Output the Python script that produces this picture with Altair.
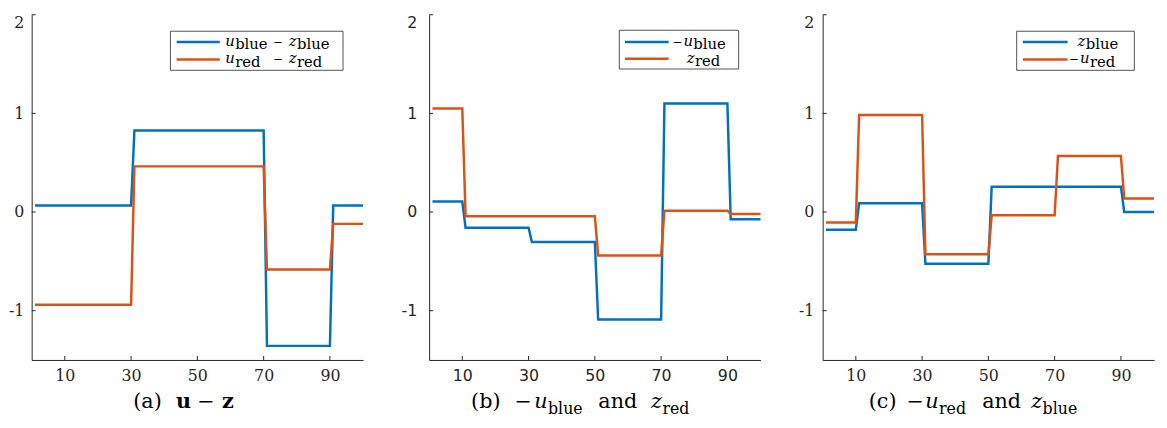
import altair as alt
import pandas as pd

# ---------------- data (step levels) ----------------
X_TICKS = [10, 30, 50, 70, 90]
Y_TICKS = [-1, 0, 1, 2]

A_BLUE_START = [1, 31, 71, 91]
A_BLUE_VAL = [0.067, 0.827, -1.357, 0.067]
A_RED_START = [1, 31, 71, 91]
A_RED_VAL = [-0.94, 0.463, -0.583, -0.12]

B_BLUE_START = [1, 11, 31, 51, 71, 91]
B_BLUE_VAL = [0.107, -0.16, -0.304, -1.09, 1.10, -0.074]
B_RED_START = [1, 11, 51, 71, 91]
B_RED_VAL = [1.05, -0.043, -0.44, 0.013, -0.02]

C_BLUE_START = [1, 11, 31, 51, 91]
C_BLUE_VAL = [-0.18, 0.09, -0.525, 0.257, 0.0]
C_RED_START = [1, 11, 31, 51, 71, 91]
C_RED_VAL = [-0.107, 0.983, -0.428, -0.033, 0.569, 0.137]

X_END = 100

BLUE = "#0072BD"
RED = "#D95319"
AX = "#262626"
W, H = 336, 350
SERIF = "DejaVu Serif"
SANS = "DejaVu Sans"


def steps(starts, vals, name):
    rows = []
    for i, (s, v) in enumerate(zip(starts, vals)):
        e = starts[i + 1] - 1 if i + 1 < len(starts) else X_END
        rows.append({"x": s, "y": v, "s": name})
        rows.append({"x": e, "y": v, "s": name})
    return rows


def txt(t, x, y, size, style="normal", weight="normal", align="left", font=SERIF):
    return alt.Chart(pd.DataFrame({"t": [t]})).mark_text(
        align=align, baseline="alphabetic", font=font, fontSize=size,
        fontStyle=style, fontWeight=weight, color="black"
    ).encode(x=alt.value(x), y=alt.value(y), text="t:N")


def panel(blue, red, tick_font, lp, legend, caption):
    df = pd.DataFrame(blue + red)
    xscale = alt.Scale(domain=[0, 100], nice=False, zero=False)
    yscale = alt.Scale(domain=[-1.5, 2], nice=False, zero=False)
    xaxis = alt.Axis(values=X_TICKS, ticks=False, tickSize=0, grid=False,
                     domainColor=AX, labelColor=AX, labelFont=tick_font,
                     labelFontSize=16, labelPadding=8, title=None,
                     labelExpr="'' + datum.value")
    yaxis = alt.Axis(values=Y_TICKS, ticks=False, tickSize=0, grid=False,
                     domainColor=AX, labelColor=AX, labelFont=tick_font,
                     labelFontSize=16, labelPadding=lp, title=None,
                     labelFlush=True, labelExpr="'' + datum.value")
    lines = alt.Chart(df).mark_line(strokeWidth=2.5, strokeJoin="miter").encode(
        x=alt.X("x:Q", scale=xscale, axis=xaxis),
        y=alt.Y("y:Q", scale=yscale, axis=yaxis),
        color=alt.Color("s:N", scale=alt.Scale(domain=["blue", "red"], range=[BLUE, RED]),
                        legend=None),
    )
    xt = alt.Chart(pd.DataFrame({"x": X_TICKS})).mark_rule(color=AX, strokeWidth=1).encode(
        x=alt.X("x:Q", scale=xscale, axis=xaxis), y=alt.value(H), y2=alt.value(H - 4))
    yt = alt.Chart(pd.DataFrame({"y": Y_TICKS})).mark_rule(color=AX, strokeWidth=1).encode(
        y=alt.Y("y:Q", scale=yscale, axis=yaxis), x=alt.value(0), x2=alt.value(4))

    bx1, bx2, by1, by2 = legend["box"]
    lx1, lx2 = legend["line_x"]
    ly1, ly2 = legend["line_y"]
    one = pd.DataFrame({"a": [0]})
    box = alt.Chart(one).mark_rect(fill="white", stroke=AX, strokeWidth=0.8).encode(
        x=alt.value(bx1), x2=alt.value(bx2), y=alt.value(by1), y2=alt.value(by2))
    lb = alt.Chart(one).mark_rule(color=BLUE, strokeWidth=2.5).encode(
        x=alt.value(lx1), x2=alt.value(lx2), y=alt.value(ly1))
    lr = alt.Chart(one).mark_rule(color=RED, strokeWidth=2.5).encode(
        x=alt.value(lx1), x2=alt.value(lx2), y=alt.value(ly2))

    layers = [lines, xt, yt, box, lb, lr]
    for p in legend["text"] + caption:
        layers.append(txt(*p))
    return alt.layer(*layers).properties(width=W, height=H)


I, N, B = "italic", "normal", "bold"
R, L = "right", "left"
# legend / caption pieces: (text, x, y, size, style, weight, align)
LEG_A = {
    "box": (140.7, 315.7, 16.7, 56.3),
    "line_x": (147, 190.7),
    "line_y": (27.7, 45.3),
    "text": [
        ("u", 206, 31.5, 15, I, N, R), ("blue", 206.3, 35, 15),
        ("\u2212", 245, 31.5, 12), ("z", 268.5, 31.5, 15, I, N, R), ("blue", 269, 35, 15),
        ("u", 206, 49, 15, I, N, R), ("red", 206.3, 52.5, 15),
        ("\u2212", 245, 49, 12), ("z", 268.5, 49, 15, I, N, R), ("red", 269, 52.5, 15),
    ],
}
CAP_A = [
    ("(a)", 103, 399, 21), ("u", 146.3, 399, 21, N, B),
    ("\u2212", 168, 399, 21), ("z", 193, 399, 21, N, B),
]

LEG_B = {
    "box": (192.8, 313.8, 15.7, 55),
    "line_x": (198.5, 242.8),
    "line_y": (27.7, 44.5),
    "text": [
        ("\u2212", 257, 31.5, 12, N, N, R), ("u", 267.5, 31.5, 15, I, N, R), ("blue", 267.8, 35, 15),
        ("z", 269, 48.5, 15, I, N, R), ("red", 269.5, 52, 15),
    ],
}
CAP_B = [
    ("(b)", 42.5, 399, 21), ("\u2212", 86.5, 399, 21), ("u", 120, 399, 21, I, N, R),
    ("blue", 120.5, 404.5, 16), ("and", 171.5, 399, 21), ("z", 236, 399, 21, I, N, R),
    ("red", 236.5, 404.5, 16),
]

LEG_C = {
    "box": (196.7, 316, 16.7, 56.3),
    "line_x": (203, 248.3),
    "line_y": (27.7, 45.3),
    "text": [
        ("z", 266.2, 31.5, 15, I, N, R), ("blue", 266.7, 35, 15),
        ("\u2212", 260, 49, 12, N, N, R), ("u", 270.5, 49, 15, I, N, R), ("red", 271, 52.5, 15),
    ],
}
CAP_C = [
    ("(c)", 46.7, 399, 21), ("\u2212", 85, 399, 21), ("u", 117.5, 399, 21, I, N, R),
    ("red", 118, 404.5, 16), ("and", 161.7, 399, 21), ("z", 222.5, 399, 21, I, N, R),
    ("blue", 223, 404.5, 16),
]

pa = panel(steps(A_BLUE_START, A_BLUE_VAL, "blue"), steps(A_RED_START, A_RED_VAL, "red"),
           SERIF, 8, LEG_A, CAP_A)
pb = panel(steps(B_BLUE_START, B_BLUE_VAL, "blue"), steps(B_RED_START, B_RED_VAL, "red"),
           SANS, 12.5, LEG_B, CAP_B)
pc = panel(steps(C_BLUE_START, C_BLUE_VAL, "blue"), steps(C_RED_START, C_RED_VAL, "red"),
           SERIF, 9, LEG_C, CAP_C)

chart = alt.hconcat(pa, pb, pc, spacing=33).properties(
    padding={"left": 0, "top": 3, "right": 0, "bottom": 0}
).configure(background="white").configure_view(stroke=None)

chart.save("out.html", embed_options={"renderer": "svg", "actions": False})
